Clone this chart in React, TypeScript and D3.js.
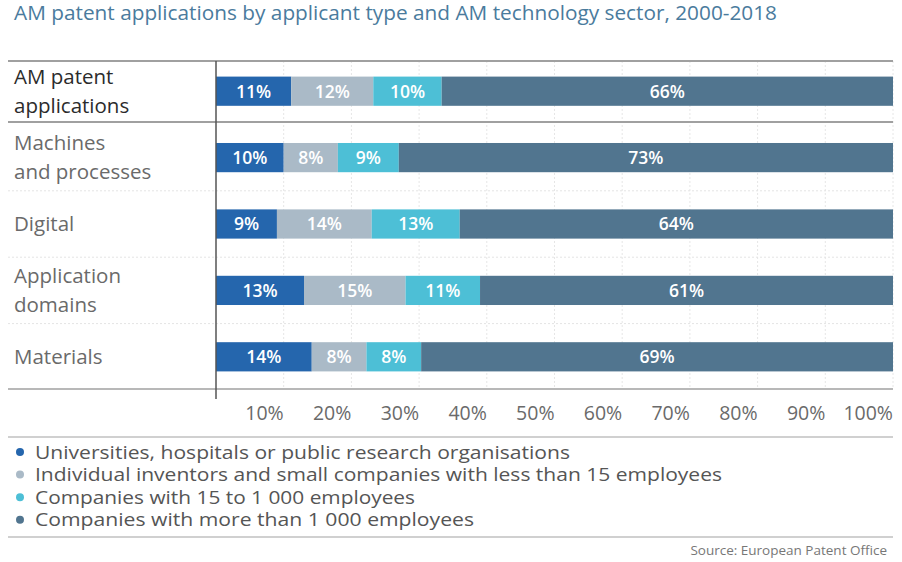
import React from "react";
import * as d3 from "d3";

const categories = [
  "AM patent applications",
  "Machines and processes",
  "Digital",
  "Application domains",
  "Materials",
];
const categoryLines = [
  ["AM patent", "applications"],
  ["Machines", "and processes"],
  ["Digital"],
  ["Application", "domains"],
  ["Materials"],
];
const universities = [11, 10, 9, 13, 14];
const individuals = [12, 8, 14, 15, 8];
const midCompanies = [10, 9, 13, 11, 8];
const largeCompanies = [66, 73, 64, 61, 69];

const seriesKeys = ["universities", "individuals", "midCompanies", "largeCompanies"];
const seriesNames = [
  "Universities, hospitals or public research organisations",
  "Individual inventors and small companies with less than 15 employees",
  "Companies with 15 to 1 000 employees",
  "Companies with more than 1 000 employees",
];
const seriesColors = ["#2566ad", "#aabac7", "#4dbfd6", "#51758f"];
const tickValues = [0.1, 0.2, 0.3, 0.4, 0.5, 0.6, 0.7, 0.8, 0.9, 1.0];

const title = "AM patent applications by applicant type and AM technology sector, 2000-2018";
const source = "Source: European Patent Office";

const FONT = "'Open Sans', 'Noto Sans', sans-serif";

export default function App() {
  const W = 902;
  const H = 562;
  const x = d3.scaleLinear().domain([0, 1]).range([216, 893]);
  const y = d3
    .scaleBand<string>()
    .domain(categories)
    .range([58, 390])
    .paddingInner(0.56)
    .paddingOuter(0.28);

  const rows = categories.map((c, i) => ({
    category: c,
    universities: universities[i],
    individuals: individuals[i],
    midCompanies: midCompanies[i],
    largeCompanies: largeCompanies[i],
  }));
  const stacked = d3
    .stack<any>()
    .keys(seriesKeys)
    .offset(d3.stackOffsetExpand)(rows);

  const step = y.step();
  const bw = y.bandwidth();
  const boundary = (i: number) => (y(categories[i]) as number) - (step - bw) / 2;

  const legendLengths = [535, 687, 380, 439];

  return (
    <svg
      width={W}
      height={H}
      style={{ position: "absolute", left: 0, top: 0, background: "#fff" }}
      fontFamily={FONT}
    >
      <text
        x={14}
        y={20}
        fontSize={19.5}
        fill="#4a7b9d"
        textLength={763}
        lengthAdjust="spacingAndGlyphs"
      >
        {title}
      </text>

      {/* vertical gridlines */}
      {tickValues.map((t) => (
        <line
          key={"g" + t}
          x1={x(t)}
          x2={x(t)}
          y1={61}
          y2={389}
          stroke="#e6e6e6"
          strokeDasharray="2,2"
          strokeWidth={1}
        />
      ))}

      {/* dotted row separators */}
      {[2, 3, 4].map((i) => (
        <line
          key={"s" + i}
          x1={8}
          x2={893}
          y1={boundary(i)}
          y2={boundary(i)}
          stroke="#e4e4e4"
          strokeDasharray="2,2"
          strokeWidth={1}
        />
      ))}

      {/* structural lines */}
      <line x1={8} x2={893} y1={61} y2={61} stroke="#a0a0a0" strokeWidth={2} />
      <line x1={8} x2={893} y1={122} y2={122} stroke="#a0a0a0" strokeWidth={2} />
      <line x1={8} x2={893} y1={389} y2={389} stroke="#a0a0a0" strokeWidth={1.5} />

      {/* bars */}
      {stacked.map((s, si) =>
        s.map((d, di) => {
          const x0 = x(d[0]);
          const x1 = x(d[1]);
          const cy = (y(categories[di]) as number) + bw / 2;
          const val = [universities, individuals, midCompanies, largeCompanies][si][di];
          return (
            <g key={`b${si}-${di}`}>
              <rect
                x={x0}
                y={y(categories[di])}
                width={x1 - x0}
                height={bw}
                fill={seriesColors[si]}
              />
              <text
                x={(x0 + x1) / 2}
                y={cy}
                dy="0.36em"
                textAnchor="middle"
                fontSize={17.5}
                fontWeight={600}
                fill="#fff"
              >
                {val}%
              </text>
            </g>
          );
        })
      )}

      {/* y axis */}
      <line x1={216} x2={216} y1={61} y2={399} stroke="#555" strokeWidth={1.5} />

      {/* category labels */}
      {categoryLines.map((lines, i) => {
        const cy = (y(categories[i]) as number) + bw / 2;
        return (
          <text
            key={"c" + i}
            fontSize={20.5}
            fill={i === 0 ? "#2b2b2b" : "#6a6a6a"}
          >
            {lines.map((l, li) => (
              <tspan key={li} x={14} y={cy + (li - (lines.length - 1) / 2) * 29} dy="0.35em">
                {l}
              </tspan>
            ))}
          </text>
        );
      })}

      {/* tick labels */}
      {tickValues.map((t) => (
        <text
          key={"t" + t}
          x={x(t)}
          y={420}
          textAnchor="end"
          fontSize={19.5}
          fill="#6a6a6a"
        >
          {d3.format(".0%")(t)}
        </text>
      ))}

      <line x1={8} x2={893} y1={437} y2={437} stroke="#d0d0d0" strokeWidth={2} />

      {/* legend */}
      {seriesNames.map((n, i) => {
        const ly = 452 + i * 22.6;
        return (
          <g key={"l" + i}>
            <circle cx={20} cy={ly} r={4} fill={seriesColors[i]} />
            <text
              x={35}
              y={ly}
              dy="0.35em"
              fontSize={19}
              fill="#555"
              textLength={legendLengths[i]}
              lengthAdjust="spacingAndGlyphs"
            >
              {n}
            </text>
          </g>
        );
      })}

      <line x1={8} x2={893} y1={537} y2={537} stroke="#d0d0d0" strokeWidth={2} />

      <text x={887} y={555} textAnchor="end" fontSize={13.5} fill="#777">
        {source}
      </text>
    </svg>
  );
}
